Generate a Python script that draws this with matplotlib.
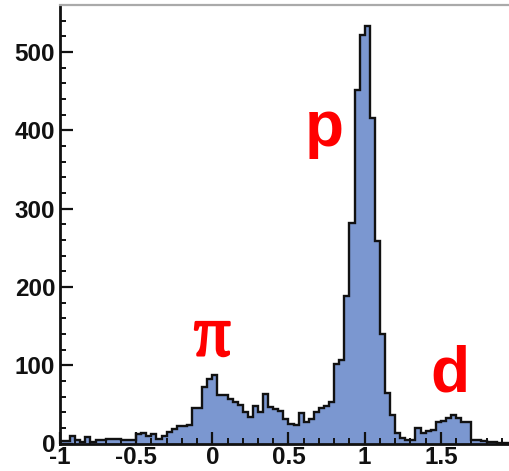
import numpy as np
import matplotlib
matplotlib.use("Agg")
import matplotlib.pyplot as plt
import matplotlib.patheffects as pe
from matplotlib.ticker import MultipleLocator

# ---- data ----
x_min, x_max, n_bins = -1.0, 2.0, 90
counts = [
    3, 3, 9, 5, 2, 8, 2, 4, 5, 6,          # -1.00 .. -0.70
    6, 6, 4, 5, 4, 12, 13, 10, 12, 6,      # -0.67 .. -0.37
    10, 15, 18, 22, 22, 23, 45, 45, 72, 82,  # -0.33 .. -0.03
    87, 62, 62, 57, 53, 49, 40, 34, 48, 40,  # 0.00 .. 0.30
    63, 47, 44, 42, 31, 25, 23, 39, 28, 31,  # 0.33 .. 0.63
    40, 45, 48, 53, 101, 106, 189, 282, 451, 522,  # 0.67 .. 0.97
    533, 416, 258, 140, 64, 36, 13, 7, 5, 4,  # 1.00 .. 1.30
    20, 13, 16, 17, 28, 29, 32, 36, 33, 28,  # 1.33 .. 1.63
    27, 5, 4, 3, 2, 2, 1, 1, 1, 0,          # 1.67 .. 1.97
]
x_ticks = [-1, -0.5, 0, 0.5, 1, 1.5, 2]
x_tick_labels = ["-1", "-0.5", "0", "0.5", "1", "1.5", "2"]
y_ticks = [0, 100, 200, 300, 400, 500]
labels = ["\u03c0", "p", "d"]
label_x = [0.0, 0.735, 1.56]
label_y = [135, 402, 88]

edges = np.linspace(x_min, x_max, n_bins + 1)

fig = plt.figure(figsize=(5.10, 4.71), dpi=100)
ax = fig.add_axes([60 / 510, 1 - 443.5 / 471, 457 / 510, 438.5 / 471])

ax.stairs(counts, edges, fill=True, color="#7b97d0", zorder=1)
ax.stairs(counts, edges, fill=False, color="#111111", linewidth=1.7, zorder=2)

ax.set_xlim(x_min, x_max)
ax.set_ylim(0, 560)

ax.set_xticks(x_ticks)
ax.set_xticklabels(x_tick_labels)
ax.set_yticks(y_ticks)
ax.xaxis.set_minor_locator(MultipleLocator(0.1))
ax.yaxis.set_minor_locator(MultipleLocator(20))

for lab in ax.get_xticklabels() + ax.get_yticklabels():
    lab.set_fontfamily("Liberation Sans")
    lab.set_fontweight("bold")
    lab.set_fontsize(17.5)
    lab.set_color("#111111")

ax.tick_params(axis="both", which="major", direction="in", length=9, width=1.6,
               color="#111111", top=False, right=False)
ax.tick_params(axis="both", which="minor", direction="in", length=4.5, width=1.4,
               color="#111111", top=False, right=False)
ax.tick_params(axis="x", which="major", pad=2)
ax.tick_params(axis="y", which="major", pad=3.5)

for side in ["left", "bottom"]:
    ax.spines[side].set_linewidth(2.0)
    ax.spines[side].set_color("#111111")
ax.spines["top"].set_color("#aaaaaa")
ax.spines["top"].set_linewidth(1.6)
ax.spines["right"].set_visible(False)

fonts = [["Liberation Serif", "DejaVu Serif"], ["Liberation Sans"], ["Liberation Sans"]]
weights = ["normal", "bold", "bold"]
sizes = [52, 46, 46]
strokes = [1.8, 0, 0]
for t, xx, yy, ff, ww, ss, sk in zip(labels, label_x, label_y, fonts, weights, sizes, strokes):
    txt = ax.text(xx, yy, t, color="#ff0000", fontsize=ss, fontweight=ww, family=ff,
                  ha="center", va="center", zorder=3)
    if sk:
        txt.set_path_effects([pe.withStroke(linewidth=sk, foreground="#ff0000")])

fig.savefig("out.png", dpi=100)
